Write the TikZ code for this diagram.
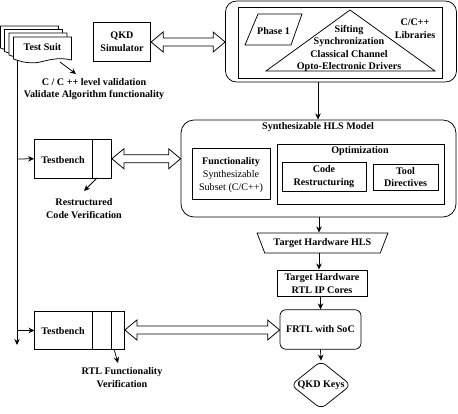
\documentclass[tikz,border=0pt]{standalone}
\usepackage{fontspec}
\setmainfont{Liberation Serif}
\usetikzlibrary{calc,arrows.meta,shapes.geometric}
\tikzset{
  base/.style={inner sep=0pt,align=center,font=\fontsize{10.1}{12.6}\selectfont\bfseries},
  lbl/.style={base,yshift=-1.5pt},
  boxed/.style={base,draw,line width=0.75pt},
  flow/.style={line width=0.75pt,-{Stealth[length=6pt,width=5.5pt]}},
  dbl/.style={line width=0.75pt,fill=white,to path={
    let \p1=(\tikztostart),\p2=(\tikztotarget) in
    -- ({\x1+12pt},{\y1+10pt}) -- ({\x1+12pt},{\y1+4pt}) -- ({\x2-12pt},{\y1+4pt})
    -- ({\x2-12pt},{\y1+10pt}) -- (\x2,\y1) -- ({\x2-12pt},{\y1-10pt})
    -- ({\x2-12pt},{\y1-4pt}) -- ({\x1+12pt},{\y1-4pt}) -- ({\x1+12pt},{\y1-10pt}) -- cycle}},
  docsheet/.style={line width=0.75pt,fill=white},
}
\newcommand{\docsheetat}[2]{%
  \begin{scope}[shift={(#1,#2)}]
  \draw[docsheet] (0,0) -- (58,0) -- (58,23)
    .. controls (48,20.5) and (38,22) .. (29,24.5)
    .. controls (18,27.5) and (8,25) .. (0,22) -- cycle;
  \end{scope}}
\begin{document}
\begin{tikzpicture}[x=1pt,y=-1pt]
\useasboundingbox (0,0) rectangle (458,414);
% test suit stack
\docsheetat{0.5}{26}
\docsheetat{4.5}{29.5}
\docsheetat{9}{33}
\docsheetat{13.5}{37}
\node[lbl] (suit) at (42.5,46) {Test Suit};
\coordinate (suitbase) at (17,60.5);
\coordinate (suitout) at (60,62);
\coordinate (suitlab) at (76,74);
\node[lbl] (val) at (94,87.5) {C / C ++ level validation\\Validate Algorithm functionality};
% QKD simulator
\node[boxed,minimum width=57.5pt,minimum height=38.5pt] (sim) at (122,42) {QKD\\Simulator};
% top libraries
\node[base,draw,line width=0.75pt,rounded corners=11pt,minimum width=231pt,minimum height=81pt] (lib) at (341,41.5) {};
\node[base,draw,line width=0.75pt,minimum width=204pt,minimum height=71pt] (libin) at (340,42.5) {};
\draw[line width=0.75pt] (258,14) -- (302,14) -- (291,45) -- (245,45) -- cycle;
\node[lbl] at (273.5,30) (phase) {Phase 1};
\draw[line width=0.75pt] (350,10) -- (435,71) -- (266,71) -- cycle;
\node[lbl] (stack) at (349,47) {Sifting\\Synchronization\\Classical Channel\\Opto-Electronic Drivers};
\node[lbl] (clib) at (415,27) {C/C++\\Libraries};
\draw[dbl] (sim.east) to (lib.west |- sim.east);
% HLS model
\node[base,draw,line width=0.75pt,rounded corners=13pt,minimum width=275pt,minimum height=97pt] (hls) at (318.5,168.5) {};
\node[lbl] (hlst) at (318,125.5) {Synthesizable HLS Model};
\node[base,draw,line width=0.75pt,minimum width=78pt,minimum height=51pt] (func) at (231,173.5) {};
\node[lbl] (funct) at (231,161) {Functionality};
\node[lbl,font=\fontsize{10.1}{12.4}\selectfont] (funcs) at (231,180) {Synthesizable\\Subset (C/C++)};
\node[base,draw,line width=0.75pt,minimum width=167pt,minimum height=60pt] (opt) at (360.5,174) {};
\node[lbl] (optt) at (360,149.5) {Optimization};
\node[boxed,minimum width=84pt,minimum height=29pt] (code) at (324,176.5) {Code\\Restructuring};
\node[boxed,minimum width=65pt,minimum height=26pt] (tool) at (405.5,177) {Tool\\Directives};
\draw[flow] (318,82) -- (318,119.5);
% testbench 1
\node[base,draw,line width=0.75pt,minimum width=77pt,minimum height=38.5pt] (tb1) at (73,158.75) {};
\node[lbl] (tb1t) at (63,158.5) {Testbench};
\draw[line width=0.75pt] (92.5,139.5) -- (92.5,178);
\draw[dbl] (tb1.east) to (hls.west |- tb1.east);
\coordinate (tb1out) at (97,178);
\coordinate (tb1lab) at (84,191);
\draw[flow] (tb1out) -- (tb1lab);
\node[lbl] (tb1n) at (84,207) {Restructured\\Code  Verification};
% flow chain
\node[trapezium,shape border rotate=180,trapezium stretches=true,draw,line width=0.75pt,inner sep=0pt,minimum width=131pt,minimum height=20pt,trapezium left angle=55,trapezium right angle=55,align=center,font=\fontsize{10.1}{12.4}\selectfont\bfseries] (trap) at (322.5,243) {Target Hardware HLS};
\node[boxed,minimum width=90pt,minimum height=26pt] (rtl) at (322,283.5) {Target Hardware\\RTL IP Cores};
\node[boxed,rounded corners=6pt,minimum width=81pt,minimum height=39.5pt] (frtl) at (320.5,329.5) {FRTL with SoC};
\node[diamond,draw,line width=0.75pt,rounded corners=6pt,inner sep=0pt,aspect=1.25,minimum width=60pt,minimum height=48pt,font=\fontsize{10.1}{12.4}\selectfont\bfseries] (keys) at (321,385) {QKD Keys};
\draw[flow] (319,217) -- (319,232.5);
\draw[flow] (319,253) -- (319,269.5);
\draw[flow] (rtl.south -| frtl) -- (frtl.north);
\draw[flow] (frtl.south) -- (keys.north);
% testbench 2
\node[base,draw,line width=0.75pt,minimum width=90pt,minimum height=38pt] (tb2) at (79.5,330) {};
\node[lbl] (tb2t) at (63,330) {Testbench};
\draw[line width=0.75pt] (92.5,311) -- (92.5,349);
\draw[line width=0.75pt] (111.5,311) -- (111.5,349);
\draw[dbl] (tb2.east) to (frtl.west |- tb2.east);
\coordinate (tb2out) at (114,349);
\coordinate (tb2lab) at (118,363);
\draw[flow] (tb2out) -- (tb2lab);
\node[lbl] (tb2n) at (122,376) {RTL Functionality\\Verification};
% main line
\coordinate (mainend) at (17,345);
\draw[flow] (suitbase) -- (mainend);
\draw[flow] (17,159) -- (tb1.west);
\draw[flow] (17,330.5) -- (34.5,330.5);
\draw[flow] (suitout) -- (suitlab);
\end{tikzpicture}
\end{document}
